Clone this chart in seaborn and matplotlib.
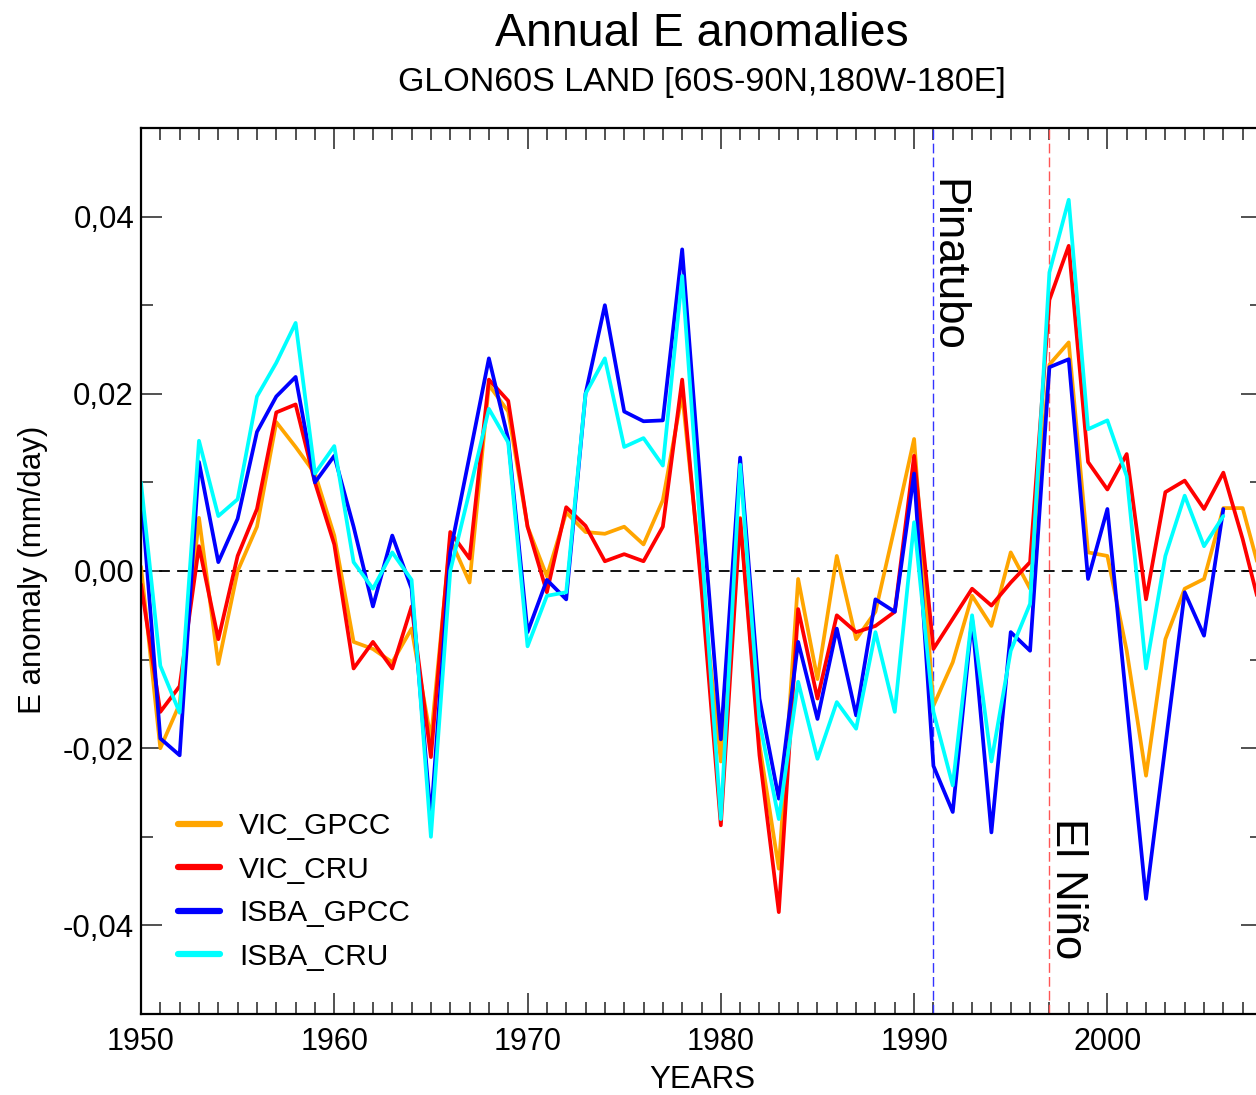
import numpy as np
import pandas as pd
import matplotlib
matplotlib.use("Agg")
import matplotlib.pyplot as plt
from matplotlib.ticker import MultipleLocator, FuncFormatter
import seaborn as sns

# ---------------- data ----------------
years_vic = list(range(1950, 2009))
years_isba = list(range(1950, 2007))

vic_gpcc = [0.0005, -0.020, -0.015, 0.006, -0.0105, 0.0, 0.005, 0.0168, 0.014, 0.011,
            0.004, -0.008, -0.0088, -0.0103, -0.0065, -0.019, 0.0036, -0.0013, 0.021, 0.018,
            0.005, -0.0006, 0.0066, 0.0044, 0.0042, 0.005, 0.003, 0.008, 0.020, -0.001,
            -0.0215, 0.006, -0.0196, -0.0336, -0.0009, -0.0122, 0.0017, -0.0077, -0.0046, 0.005,
            0.0149, -0.0152, -0.0103, -0.0028, -0.0062, 0.0021, -0.002, 0.0233, 0.0258, 0.0021,
            0.0017, -0.009, -0.0231, -0.0077, -0.002, -0.0009, 0.0071, 0.0071, -0.001]

vic_cru = [-0.0015, -0.0159, -0.013, 0.0028, -0.0077, 0.0017, 0.007, 0.0179, 0.0188, 0.010,
           0.003, -0.011, -0.008, -0.011, -0.004, -0.021, 0.0044, 0.0014, 0.0216, 0.0192,
           0.005, -0.0024, 0.0072, 0.0051, 0.0011, 0.0019, 0.0011, 0.005, 0.0216, -0.002,
           -0.0287, 0.0059, -0.0208, -0.0385, -0.0043, -0.0144, -0.005, -0.0069, -0.0062, -0.0046,
           0.013, -0.0088, -0.0054, -0.002, -0.0039, -0.0013, 0.001, 0.0306, 0.0367, 0.0123,
           0.0092, 0.0132, -0.0032, 0.0089, 0.0102, 0.007, 0.0111, 0.0036, -0.005]

isba_gpcc = [0.009, -0.0189, -0.0208, 0.0123, 0.001, 0.0059, 0.0157, 0.0197, 0.0219, 0.010,
             0.013, 0.005, -0.004, 0.004, -0.002, -0.028, 0.0021, 0.013, 0.024, 0.0149,
             -0.0069, -0.001, -0.0032, 0.020, 0.030, 0.018, 0.0169, 0.017, 0.0363, 0.008,
             -0.019, 0.0128, -0.0144, -0.0257, -0.008, -0.0167, -0.0065, -0.0163, -0.0032, -0.0046,
             0.011, -0.022, -0.0272, -0.0054, -0.0295, -0.0069, -0.009, 0.023, 0.0239, -0.0009,
             0.007, -0.015, -0.037, -0.0197, -0.0024, -0.0073, 0.007]

isba_cru = [0.010, -0.0107, -0.016, 0.0147, 0.0062, 0.0081, 0.0197, 0.0235, 0.028, 0.011,
            0.0141, 0.001, -0.002, 0.0021, -0.001, -0.030, 0.0, 0.009, 0.0183, 0.0145,
            -0.0085, -0.0028, -0.0024, 0.020, 0.024, 0.014, 0.015, 0.0119, 0.0333, 0.003,
            -0.028, 0.012, -0.017, -0.028, -0.0125, -0.0212, -0.0148, -0.0178, -0.0069, -0.0159,
            0.0055, -0.0159, -0.0242, -0.005, -0.0215, -0.009, -0.0037, 0.0337, 0.0419, 0.016,
            0.017, 0.0107, -0.011, 0.0017, 0.0085, 0.0028, 0.0062]

series_names = ["VIC_GPCC", "VIC_CRU", "ISBA_GPCC", "ISBA_CRU"]
series_colors = ["#FFA500", "#FF0000", "#0000FF", "#00FFFF"]
events = [(1991, "Pinatubo"), (1997, "El Niño")]
yticks_vals = [-0.04, -0.02, 0.0, 0.02, 0.04]

frames = []
for name, yrs, vals in [("VIC_GPCC", years_vic, vic_gpcc), ("VIC_CRU", years_vic, vic_cru),
                        ("ISBA_GPCC", years_isba, isba_gpcc), ("ISBA_CRU", years_isba, isba_cru)]:
    frames.append(pd.DataFrame({"year": yrs, "E": vals, "series": name}))
df = pd.concat(frames, ignore_index=True)

# ---------------- style ----------------
sns.set_style("ticks")
plt.rcParams["font.family"] = ["Liberation Sans", "DejaVu Sans"]
plt.rcParams["text.color"] = "black"
plt.rcParams["axes.labelcolor"] = "black"
plt.rcParams["xtick.color"] = "black"
plt.rcParams["ytick.color"] = "black"

W, H = 1256, 1095
fig = plt.figure(figsize=(W / 100, H / 100), dpi=100)
ax = fig.add_axes([141 / W, 81 / H, 1121 / W, 886 / H])

sns.lineplot(data=df, x="year", y="E", hue="series", hue_order=series_names,
             palette=series_colors, linewidth=2.7, ax=ax, legend=True)

ax.set_xlim(1950, 2008)
ax.set_ylim(-0.05, 0.05)

ax.axhline(0, color="black", lw=1.3, ls=(0, (6, 4)), zorder=1)
ax.axvline(events[0][0], color="#3333FF", lw=1.0, ls=(0, (7, 3)), zorder=1)
ax.axvline(events[1][0], color="#FF5555", lw=1.0, ls=(0, (7, 3)), zorder=1)

ax.text(events[0][0] - 0.38, 0.0442, events[0][1], rotation=270, ha="left", va="top",
        fontsize=31.5, color="black")
ax.text(events[1][0] - 0.12, -0.0279, events[1][1], rotation=270, ha="left", va="top",
        fontsize=31.5, color="black")

# ticks
ax.xaxis.set_major_locator(MultipleLocator(10))
ax.xaxis.set_minor_locator(MultipleLocator(1))
ax.set_yticks(yticks_vals)
ax.yaxis.set_minor_locator(MultipleLocator(0.01))
ax.yaxis.set_major_formatter(FuncFormatter(lambda v, p: f"{v:.2f}".replace(".", ",").replace("-0,00", "0,00")))
ax.tick_params(which="both", direction="in", top=True, right=True, width=1.2, color="#333333",
               labelcolor="black")
ax.tick_params(which="major", length=15)
ax.tick_params(which="minor", length=8.5)
ax.tick_params(axis="x", which="major", labelsize=22, pad=9)
ax.tick_params(axis="y", which="major", labelsize=22.5, pad=5)
for s in ax.spines.values():
    s.set_linewidth(1.6)
    s.set_color("black")

ax.set_xlabel("")
ax.set_ylabel("")

fig.text(702 / W, 1 - 34 / H, "Annual E anomalies", ha="center", va="center", fontsize=33.5)
fig.text(702 / W, 1 - 82 / H, "GLON60S LAND [60S-90N,180W-180E]", ha="center", va="center", fontsize=24.5)
fig.text(33 / W, 1 - 570 / H, "E anomaly (mm/day)", ha="center", va="center", rotation=90, fontsize=22.5)
fig.text(702 / W, 1 - 1080 / H, "YEARS", ha="center", va="center", fontsize=22.5)

leg = ax.legend(loc="upper left", bbox_to_anchor=(0.033, 0.228), frameon=False, fontsize=21.5,
                handlelength=1.4, handletextpad=0.65, labelspacing=0.52, borderpad=0.0,
                borderaxespad=0.0)
for h in leg.get_lines():
    h.set_linewidth(4.5)

fig.savefig("out.png", dpi=100)
